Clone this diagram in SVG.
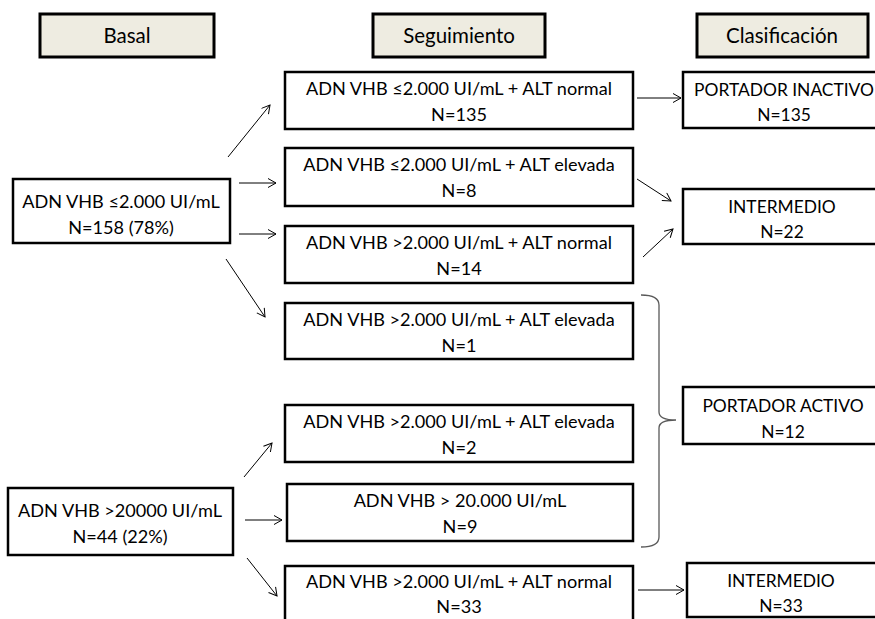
<svg xmlns="http://www.w3.org/2000/svg" width="875" height="619" viewBox="0 0 875 619">
<style>
  .box { fill: #ffffff; stroke: #000000; stroke-width: 2.5; }
  .hdr { fill: #EEECE1; stroke: #000000; stroke-width: 3; }
  text { font-family: Lato, "Liberation Sans", sans-serif; font-size: 18.1px; fill: #000000; text-anchor: middle; }
  .h { font-size: 20.5px; }
  .c { font-size: 17.4px; }
  .arr { stroke: #000000; stroke-width: 1; fill: none; marker-end: url(#ah); }
  .brace { stroke: #595959; stroke-width: 1.3; fill: none; }
</style>
<defs>
  <marker id="ah" markerUnits="userSpaceOnUse" markerWidth="12" markerHeight="12" refX="9" refY="5" orient="auto">
    <path d="M1,0.5 L9,5 L1,9.5" fill="none" stroke="#000000" stroke-width="1"/>
  </marker>
</defs>
<rect width="875" height="619" fill="#ffffff"/>

<g id="hdr-basal"><rect class="hdr" x="40" y="14" width="174" height="43"/><text class="h" x="127" y="43">Basal</text></g>
<g id="hdr-seguimiento"><rect class="hdr" x="373" y="14" width="172" height="43"/><text class="h" x="459" y="43">Seguimiento</text></g>
<g id="hdr-clasificacion"><rect class="hdr" x="697" y="14" width="171" height="43"/><text class="h" x="782" y="43">Clasificación</text></g>

<g id="basal-1"><rect class="box" x="13" y="179" width="217" height="64"/><text x="121" y="208">ADN VHB ≤2.000 UI/mL</text><text x="121" y="234">N=158 (78%)</text></g>
<g id="basal-2"><rect class="box" x="8" y="488" width="225" height="67"/><text x="120" y="517">ADN VHB &gt;20000 UI/mL</text><text x="120" y="543">N=44 (22%)</text></g>

<g id="seg-1"><rect class="box" x="285" y="72" width="348" height="57"/><text x="459" y="95">ADN VHB ≤2.000 UI/mL + ALT normal</text><text x="459" y="121">N=135</text></g>
<g id="seg-2"><rect class="box" x="285" y="148" width="348" height="58"/><text x="459" y="171">ADN VHB ≤2.000 UI/mL + ALT elevada</text><text x="459" y="197">N=8</text></g>
<g id="seg-3"><rect class="box" x="285" y="226" width="348" height="57"/><text x="459" y="249">ADN VHB &gt;2.000 UI/mL + ALT normal</text><text x="459" y="275">N=14</text></g>
<g id="seg-4"><rect class="box" x="285" y="303" width="348" height="56"/><text x="459" y="326">ADN VHB &gt;2.000 UI/mL + ALT elevada</text><text x="459" y="352">N=1</text></g>
<g id="seg-5"><rect class="box" x="285" y="405" width="348" height="57"/><text x="459" y="428">ADN VHB &gt;2.000 UI/mL + ALT elevada</text><text x="459" y="454">N=2</text></g>
<g id="seg-6"><rect class="box" x="287" y="484" width="346" height="57"/><text x="460" y="507">ADN VHB &gt; 20.000 UI/mL</text><text x="460" y="533">N=9</text></g>
<g id="seg-7"><rect class="box" x="285" y="566" width="348" height="62"/><text x="459" y="588">ADN VHB &gt;2.000 UI/mL + ALT normal</text><text x="459" y="613">N=33</text></g>

<g id="cls-inactivo"><rect class="box" x="683" y="72" width="210" height="56"/><text class="c" x="784" y="96">PORTADOR INACTIVO</text><text class="c" x="784" y="121">N=135</text></g>
<g id="cls-intermedio-1"><rect class="box" x="683" y="189" width="210" height="55"/><text class="c" x="782" y="213">INTERMEDIO</text><text class="c" x="782" y="238">N=22</text></g>
<g id="cls-activo"><rect class="box" x="683" y="387" width="210" height="57"/><text class="c" x="783" y="412">PORTADOR ACTIVO</text><text class="c" x="783" y="438">N=12</text></g>
<g id="cls-intermedio-2"><rect class="box" x="687" y="563" width="210" height="54"/><text class="c" x="781" y="587">INTERMEDIO</text><text class="c" x="781" y="612">N=33</text></g>

<g id="connectors">
  <line class="arr" x1="228" y1="157" x2="270" y2="105"/>
  <line class="arr" x1="239" y1="183" x2="276" y2="183"/>
  <line class="arr" x1="239" y1="234" x2="276" y2="234"/>
  <line class="arr" x1="226" y1="259" x2="265" y2="317"/>
  <line class="arr" x1="637" y1="98" x2="681" y2="98"/>
  <line class="arr" x1="637" y1="179" x2="671" y2="201"/>
  <line class="arr" x1="643" y1="257" x2="673" y2="229"/>
  <line class="arr" x1="244" y1="477" x2="272" y2="443"/>
  <line class="arr" x1="245" y1="520" x2="282" y2="520"/>
  <line class="arr" x1="247" y1="558" x2="277" y2="596"/>
  <line class="arr" x1="638" y1="590" x2="684" y2="590"/>
  <path class="brace" d="M641,295 Q659,295 659,305 L659,412 Q659,420 676,420 Q659,420 659,428 L659,537 Q659,547 641,547"/>
</g>
</svg>
